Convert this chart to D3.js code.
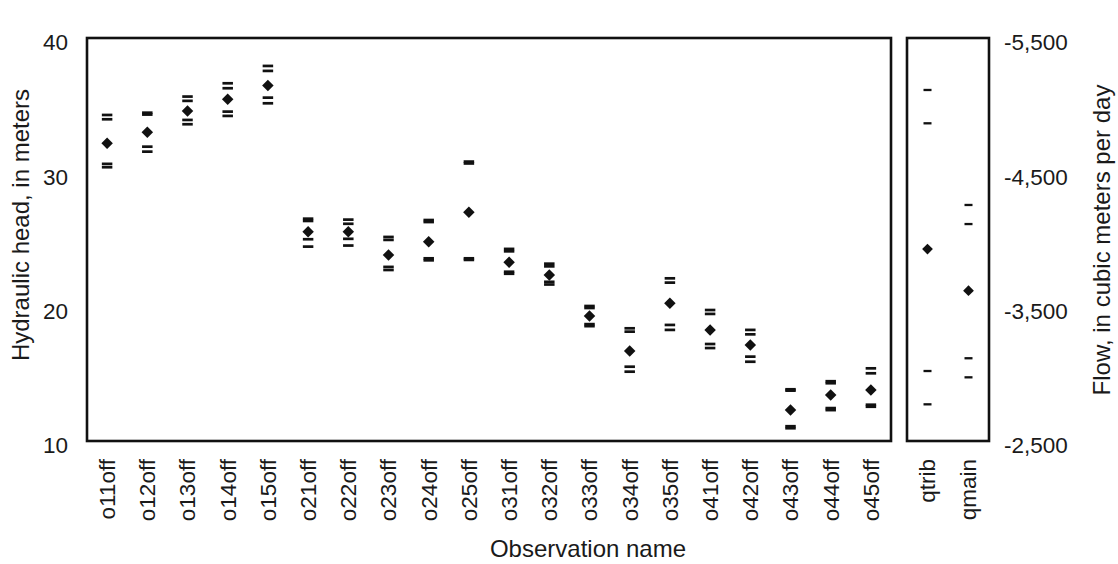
<!DOCTYPE html>
<html>
<head>
<meta charset="utf-8">
<script src="https://cdn.jsdelivr.net/npm/d3@7"></script>
<style>
  html, body { margin: 0; padding: 0; background: #fff; }
  svg { display: block; }
  text { font-family: "Liberation Sans", Arial, sans-serif; fill: #1a1a1a; }
</style>
</head>
<body>
<svg id="chart" width="1118" height="564"></svg>
<script>
// Head observations: simulated value and the four interval limits
const headNames = ["o11off","o12off","o13off","o14off","o15off",
                   "o21off","o22off","o23off","o24off","o25off",
                   "o31off","o32off","o33off","o34off","o35off",
                   "o41off","o42off","o43off","o44off","o45off"];
const headValue  = [32.17, 32.99, 34.57, 35.44, 36.46, 25.58, 25.58, 23.85, 24.84, 27.03,
                    23.31, 22.36, 19.31, 16.70, 20.25, 18.27, 17.15, 12.31, 13.43, 13.80];
const headUpOuter = [34.27, 34.44, 35.64, 36.63, 37.92, 26.55, 26.48, 25.19, 26.45, 30.80,
                     24.30, 23.20, 20.05, 18.39, 22.11, 19.75, 18.27, 13.85, 14.45, 15.41];
const headUpInner = [33.95, 34.30, 35.32, 36.26, 37.55, 26.38, 26.17, 24.97, 26.30, 30.66,
                     24.12, 23.00, 19.90, 18.14, 21.79, 19.46, 17.94, 13.75, 14.30, 15.04];
const headLoInner = [30.63, 31.91, 33.90, 34.52, 35.56, 25.02, 25.05, 22.96, 23.60, 23.60,
                     22.60, 21.85, 18.70, 15.53, 18.64, 17.22, 16.28, 11.10, 12.45, 12.70];
const headLoOuter = [30.38, 31.54, 33.58, 34.20, 35.14, 24.47, 24.55, 22.73, 23.45, 23.48,
                     22.45, 21.65, 18.55, 15.16, 18.27, 16.92, 15.90, 10.95, 12.30, 12.55];

// Flow observations
const flowNames   = ["qtrib", "qmain"];
const flowValue   = [-3929, -3619];
const flowUpOuter = [-5113, -4257];
const flowUpInner = [-4865, -4115];
const flowLoInner = [-3021, -3116];
const flowLoOuter = [-2773, -2974];

const headTicks = [10, 20, 30, 40];
const flowTicks = [-5500, -4500, -3500, -2500];

const svg = d3.select("#chart");

// Panel geometry
const plotTop = 38, plotBottom = 441;
const left1 = 87, right1 = 891;
const left2 = 907, right2 = 989;

const xHead = d3.scaleBand().domain(headNames).range([left1, right1]);
const xFlow = d3.scaleBand().domain(flowNames).range([left2, right2]);
const yHead = d3.scaleLinear().domain([10, 40]).range([plotBottom, plotTop]);
const yFlow = d3.scaleLinear().domain([-5500, -2500]).range([plotTop, plotBottom]);

const fmtLocale = d3.formatLocale({decimal: ".", thousands: ",", grouping: [3], currency: ["", ""], minus: "-"});
const fmtFlow = fmtLocale.format(",");

// Left axis labels
const axL = svg.append("g")
  .attr("transform", `translate(${left1},0)`)
  .call(d3.axisLeft(yHead).tickValues(headTicks).tickSize(0).tickPadding(19));
axL.select(".domain").remove();
axL.selectAll("text")
  .attr("font-size", 22.5).attr("font-family", "Liberation Sans, Arial, sans-serif")
  .attr("fill", "#1a1a1a").attr("dy", "0.35em").attr("y", 4);

// Right axis labels
const axR = svg.append("g")
  .attr("transform", `translate(${right2},0)`)
  .call(d3.axisRight(yFlow).tickValues(flowTicks).tickFormat(fmtFlow).tickSize(0).tickPadding(15));
axR.select(".domain").remove();
axR.selectAll("text")
  .attr("font-size", 22.5).attr("font-family", "Liberation Sans, Arial, sans-serif")
  .attr("fill", "#1a1a1a").attr("dy", "0.35em").attr("y", 4);

// Category labels (rotated)
function catLabels(scale) {
  const g = svg.append("g")
    .attr("transform", `translate(0,${plotBottom})`)
    .call(d3.axisBottom(scale).tickSize(0).tickPadding(0));
  g.select(".domain").remove();
  g.selectAll(".tick text")
    .attr("font-size", 22.5).attr("font-family", "Liberation Sans, Arial, sans-serif")
    .attr("fill", "#1a1a1a")
    .attr("text-anchor", "end")
    .attr("transform", "rotate(-90)")
    .attr("x", -18).attr("y", 0).attr("dy", "0.35em");
}
catLabels(xHead);
catLabels(xFlow);

// Panel frames
svg.append("rect").attr("x", left1).attr("y", plotTop)
  .attr("width", right1 - left1).attr("height", plotBottom - plotTop)
  .attr("fill", "none").attr("stroke", "#111").attr("stroke-width", 2.6);
svg.append("rect").attr("x", left2).attr("y", plotTop)
  .attr("width", right2 - left2).attr("height", plotBottom - plotTop)
  .attr("fill", "none").attr("stroke", "#111").attr("stroke-width", 2.6);

// Interval dashes and simulated-value diamonds
function drawMarks(names, scaleX, scaleY, value, limits, dashW, dashH, diamondSize) {
  const g = svg.append("g");
  limits.forEach(arr => {
    g.selectAll(null).data(names).enter().append("rect")
      .attr("x", (d) => scaleX(d) + scaleX.bandwidth() / 2 - dashW / 2)
      .attr("y", (d, i) => scaleY(arr[i]) - dashH / 2)
      .attr("width", dashW).attr("height", dashH)
      .attr("fill", "#111");
  });
  const diamond = d3.symbol().type(d3.symbolSquare).size(diamondSize);
  g.selectAll(null).data(names).enter().append("path")
    .attr("d", diamond)
    .attr("transform", (d, i) =>
      `translate(${scaleX(d) + scaleX.bandwidth() / 2},${scaleY(value[i])}) rotate(45)`)
    .attr("fill", "#111");
}
drawMarks(headNames, xHead, yHead, headValue,
  [headUpOuter, headUpInner, headLoInner, headLoOuter], 10.5, 2.7, 66);
drawMarks(flowNames, xFlow, yFlow, flowValue,
  [flowUpOuter, flowUpInner, flowLoInner, flowLoOuter], 8, 2.3, 58);

// Axis titles
svg.append("text")
  .attr("transform", "translate(21,225) rotate(-90)")
  .attr("text-anchor", "middle").attr("dy", "0.35em")
  .attr("font-size", 24)
  .text("Hydraulic head, in meters");
svg.append("text")
  .attr("transform", "translate(1102,240) rotate(-90)")
  .attr("text-anchor", "middle").attr("dy", "0.35em")
  .attr("font-size", 24)
  .text("Flow, in cubic meters per day");
svg.append("text")
  .attr("x", 588).attr("y", 557)
  .attr("text-anchor", "middle")
  .attr("font-size", 24)
  .text("Observation name");
</script>
</body>
</html>
